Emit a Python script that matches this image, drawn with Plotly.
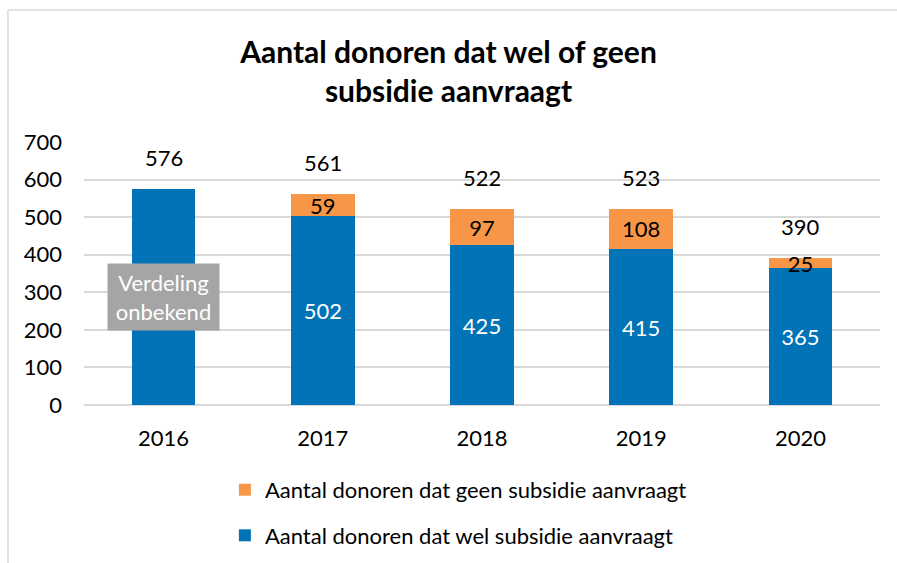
import plotly.graph_objects as go

years = ["2016", "2017", "2018", "2019", "2020"]
wel = [576, 502, 425, 415, 365]
geen = [None, 59, 97, 108, 25]
totals = [576, 561, 522, 523, 390]
wel_labels = ["", "502", "425", "415", "365"]
geen_labels = ["", "59", "97", "108", "25"]
name_wel = "Aantal donoren dat wel subsidie aanvraagt"
name_geen = "Aantal donoren dat geen subsidie aanvraagt"
title = "Aantal donoren dat wel of geen<br>subsidie aanvraagt"
note = "Verdeling<br>onbekend"

BLUE = "#0173B6"
ORANGE = "#F79646"
FONT = "Lato"
FS = 22

fig = go.Figure()
fig.add_trace(go.Bar(
    x=years, y=wel, name=name_wel, marker=dict(color=BLUE, line=dict(width=0)),
    text=wel_labels, textposition="inside", insidetextanchor="middle",
    textangle=0, constraintext="none",
    textfont=dict(color="white", size=FS, family=FONT),
    legendgroup="wel", legendrank=2,
))
fig.add_trace(go.Bar(
    x=years, y=geen, name=name_geen, marker=dict(color=ORANGE, line=dict(width=0)),
    text=geen_labels, textposition="inside", insidetextanchor="middle",
    textangle=0, constraintext="none",
    textfont=dict(color="black", size=FS, family=FONT),
    legendgroup="geen", legendrank=1,
))

for i, t in enumerate(totals):
    fig.add_annotation(x=i, y=t, text=str(t), showarrow=False, yanchor="bottom",
                       yshift=16, font=dict(size=FS, color="black", family=FONT))

fig.add_annotation(x=0, y=288, text=note, showarrow=False,
                   bgcolor="#A5A5A5", font=dict(size=FS, color="white", family=FONT),
                   width=107, height=62, align="center", borderpad=2)

# outer frame lines
fig.add_shape(type="line", xref="paper", yref="paper", x0=-0.0955, x1=-0.0955,
              y0=1.502, y1=-0.7, line=dict(color="#D9D9D9", width=1.5))
fig.add_shape(type="line", xref="paper", yref="paper", x0=-0.0955, x1=1.03,
              y0=1.502, y1=1.502, line=dict(color="#D9D9D9", width=1.5))

fig.update_layout(
    width=897, height=563,
    margin=dict(l=84, r=17, t=142, b=158, autoexpand=False),
    paper_bgcolor="white", plot_bgcolor="white",
    barmode="stack", bargap=0.6,
    font=dict(family=FONT, size=FS, color="black"),
    title=dict(text=title, x=0.5, xanchor="center", y=0.888, yanchor="middle",
               font=dict(family=FONT, size=30, color="black", weight="bold")),
    xaxis=dict(type="category", range=[-0.5, 4.5], showgrid=False, showline=False,
               ticks="", tickfont=dict(size=FS), ticklabelstandoff=18),
    yaxis=dict(range=[0, 700], dtick=100, gridcolor="#D9D9D9", gridwidth=1.5,
               zeroline=True, zerolinecolor="#D9D9D9", zerolinewidth=1.5,
               tickfont=dict(size=FS), ticklabelstandoff=21),
    showlegend=True,
    legend=dict(orientation="v", x=0.177, xanchor="left", y=-0.243, yanchor="top",
                font=dict(size=FS), tracegroupgap=14, itemwidth=30,
                traceorder="grouped"),
    uniformtext=dict(mode=False),
)

fig.write_html("out.html")
